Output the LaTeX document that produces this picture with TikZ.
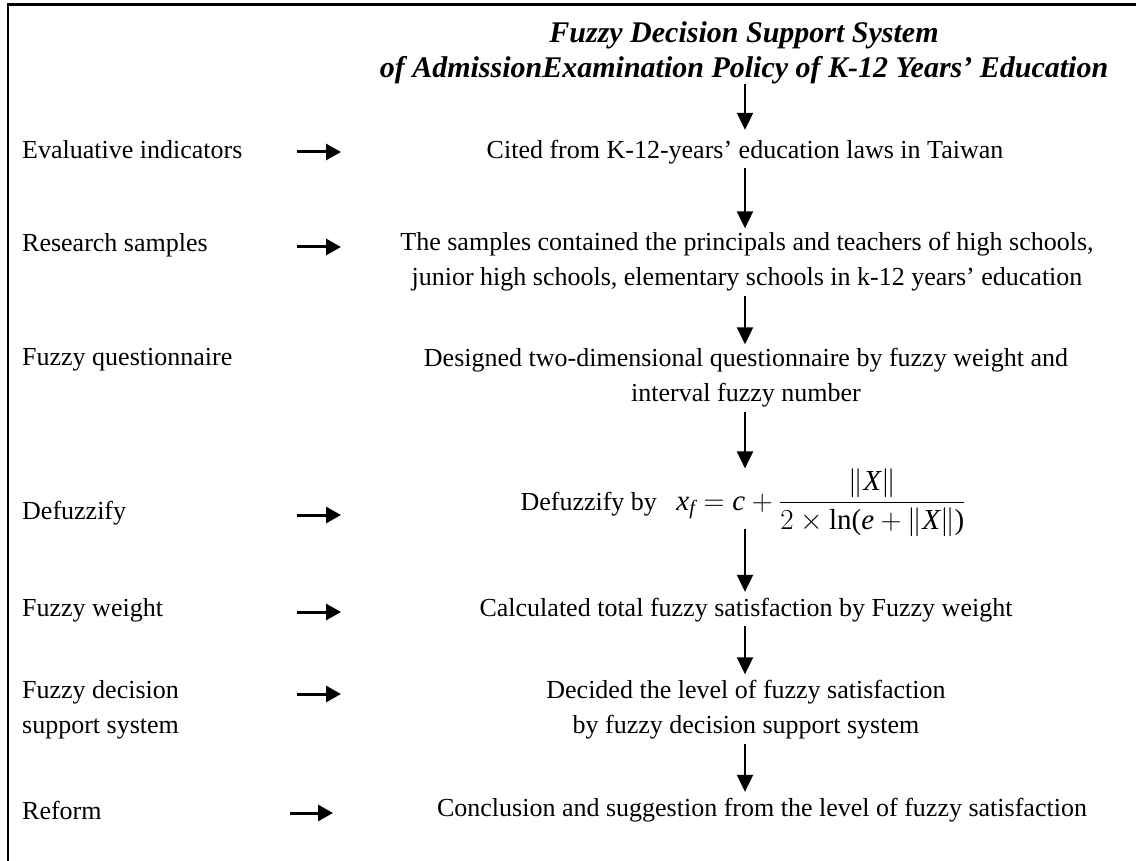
\RequirePackage{fix-cm}
\documentclass[tikz,border=0pt]{standalone}
\usepackage{amsmath}
\usepackage{fontspec}
\setmainfont{Liberation Serif}
\usetikzlibrary{arrows.meta,calc}
\newcommand{\vi}[1]{\text{\itshape #1}}
\begin{document}
\begin{tikzpicture}[x=1pt,y=-1pt,
  txt/.style={font=\fontsize{26}{35}\selectfont, inner sep=0pt, align=center},
  lbl/.style={font=\fontsize{26}{35}\selectfont, inner sep=0pt, anchor=west, align=left},
  ttl/.style={font=\fontsize{30}{35}\selectfont\bfseries\itshape, inner sep=0pt, align=center},
  vflow/.style={-{Triangle[length=17pt,width=16pt]}, line width=2pt},
  hflow/.style={-{Triangle[length=15pt,width=16pt]}, line width=3pt},
  frame/.style={line width=2.5pt},
]
\useasboundingbox (0,0) rectangle (1136,861);
\draw[frame] (8,900) -- (8,4.5) -- (1200,4.5);
\coordinate (col) at (745,0);

% main column
\node[ttl] (t1) at (744,35) {Fuzzy Decision Support System};
\node[ttl] (t2) at (744,70) {of AdmissionExamination Policy of K-12 Years’ Education};
\node[txt] (n1) at (745,152) {Cited from K-12-years’ education laws in Taiwan};
\node[txt] (n2) at (747,262) {The samples contained the principals and teachers of high schools,\\junior high schools, elementary schools in k-12 years’ education};
\node[txt] (n3) at (746,378) {Designed two-dimensional questionnaire by fuzzy weight and\\interval fuzzy number};
\node[txt, anchor=base] (n4) at (743,510) {Defuzzify by\hspace{0.75em}{\fontsize{29}{35}\selectfont$\displaystyle \vi{x}_{\vi{f}} = \vi{c} + \frac{\|\vi{X}\|}{2\times\text{ln}\text{(}\vi{e}+\|\vi{X}\|\text{)}}$}};
\node[txt] (n5) at (746,610) {Calculated total fuzzy satisfaction by Fuzzy weight};
\node[txt] (n6) at (746,710) {Decided the level of fuzzy satisfaction\\by fuzzy decision support system};
\node[txt] (n7) at (762,810) {Conclusion and suggestion from the level of fuzzy satisfaction};

% left labels
\node[lbl] (l1) at (22,150) {Evaluative indicators};
\node[lbl] (l2) at (22,245) {Research samples};
\node[lbl] (l3) at (22,360) {Fuzzy questionnaire};
\node[lbl] (l4) at (22,513) {Defuzzify};
\node[lbl] (l5) at (22,610) {Fuzzy weight};
\node[lbl] (l6) at (22,710) {Fuzzy decision\\support system};
\node[lbl] (l7) at (22,810) {Reform};

% vertical flow arrows
\draw[vflow] (t2.south -| col) -- ([yshift=10pt]n1.north -| col);
\draw[vflow] ([yshift=-4pt]n1.south -| col) -- ([yshift=4pt]n2.north -| col);
\draw[vflow] ([yshift=-4pt]n2.south -| col) -- ([yshift=4pt]n3.north -| col);
\draw[vflow] ([yshift=-4pt]n3.south -| col) -- ([yshift=0pt]n4.north -| col);
\draw[vflow] ([yshift=8pt]n4.south -| col) -- ([yshift=6pt]n5.north -| col);
\draw[vflow] ([yshift=-4pt]n5.south -| col) -- ([yshift=6pt]n6.north -| col);
\draw[vflow] ([yshift=-4pt]n6.south -| col) -- ([yshift=6pt]n7.north -| col);

% side arrows
\coordinate (h1a) at (297,152); \coordinate (h1b) at (341,152);
\coordinate (h2a) at (297,247); \coordinate (h2b) at (341,247);
\coordinate (h4a) at (297,515); \coordinate (h4b) at (341,515);
\coordinate (h5a) at (297,612); \coordinate (h5b) at (341,612);
\coordinate (h6a) at (297,694); \coordinate (h6b) at (341,694);
\coordinate (h7a) at (290,813); \coordinate (h7b) at (333,813);
\draw[hflow] (h1a) -- (h1b);
\draw[hflow] (h2a) -- (h2b);
\draw[hflow] (h4a) -- (h4b);
\draw[hflow] (h5a) -- (h5b);
\draw[hflow] (h6a) -- (h6b);
\draw[hflow] (h7a) -- (h7b);
\end{tikzpicture}
\end{document}
